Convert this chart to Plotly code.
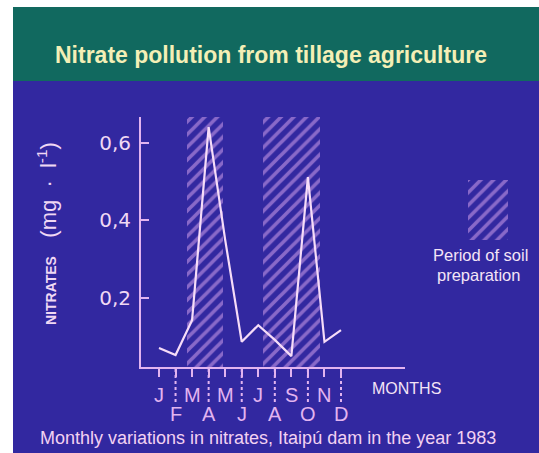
import plotly.graph_objects as go

# ---- data -------------------------------------------------------------
month_idx = list(range(12))
row1_letters = ["J", "M", "M", "J", "S", "N"]          # Jan, Mar, May, Jul, Sep, Nov
row2_letters = ["F", "A", "J", "A", "O", "D"]          # Feb, Apr, Jun, Aug, Oct, Dec
nitrates = [0.071, 0.053, 0.143, 0.641, 0.35, 0.087,
            0.13, 0.092, 0.05, 0.512, 0.087, 0.117]    # mg/l, 1983
y_tick_vals = [0.2, 0.4, 0.6]
y_tick_text = ["0,2", "0,4", "0,6"]
prep_start = [1.69, 6.3]     # soil preparation periods (month index)
prep_end = [3.87, 9.72]

# ---- page geometry (pixels) -------------------------------------------
W, H = 539, 453
def px(x):
    return x / W
def py(y):
    return 1 - y / H

BLUE = "#3228a0"
GREEN = "#11695f"
LILAC = "#e2b4f0"
LINE = "#f6dcf8"
HATCH = "#e0aaf2"
TEXT = "#f0d8f4"

AX_LEFT, AX_RIGHT, AX_TOP, AX_BOTTOM = 141, 405, 117, 367
x_range = [-1.088, 14.868]
y_range = [0.022, 0.667]

HATCH_MARKER = dict(color="rgba(0,0,0,0)", line=dict(width=0),
                    pattern=dict(shape="/", fgcolor=HATCH, bgcolor="rgba(0,0,0,0)",
                                 size=9, solidity=0.4, fillmode="overlay"))

fig = go.Figure()

# hatched soil-preparation periods
fig.add_trace(go.Bar(
    x=[(s + e) / 2 for s, e in zip(prep_start, prep_end)],
    width=[e - s for s, e in zip(prep_start, prep_end)],
    base=[y_range[0]] * len(prep_start),
    y=[0.7 - y_range[0]] * len(prep_start),
    marker=HATCH_MARKER, hoverinfo="skip", showlegend=False,
))

# nitrate concentration line
fig.add_trace(go.Scatter(
    x=month_idx, y=nitrates, mode="lines",
    line=dict(color=LINE, width=2.2), showlegend=False,
))

# legend swatch on its own small axes
fig.add_trace(go.Bar(
    x=[0.5], y=[1], width=[1], xaxis="x2", yaxis="y2",
    marker=HATCH_MARKER, hoverinfo="skip", showlegend=False,
))

shapes = [
    dict(type="rect", xref="paper", yref="paper", x0=px(13), x1=1.01,
         y0=py(81), y1=py(7), fillcolor=GREEN, line=dict(width=0), layer="below"),
    dict(type="rect", xref="paper", yref="paper", x0=px(13), x1=1.01,
         y0=-0.01, y1=py(81), fillcolor=BLUE, line=dict(width=0), layer="below"),
]
# dashed separators under the axis
for i in month_idx[1::2]:
    shapes.append(dict(type="line", xref="x", yref="paper", x0=i, x1=i,
                       y0=py(AX_BOTTOM + 2), y1=py(405),
                       line=dict(color=LILAC, width=2, dash="3px,3px")))


def label(text, x, y, size, color, xref="paper", angle=0, family="Liberation Sans"):
    return dict(text=text, x=x, y=y, xref=xref, yref="paper", showarrow=False,
                xanchor="center", yanchor="middle", textangle=angle,
                font=dict(family=family, size=size, color=color))


annotations = [
    label("<b>Nitrate pollution from tillage agriculture</b>", px(271), py(55), 23, "#f4efb6"),
    label("<span style='font-size:14px'><b>NITRATES</b></span>   (mg  ·  l<sup>-1</sup>)",
          px(47), py(233), 22, TEXT, angle=-90),
    label("MONTHS", px(406), py(388), 16, "#f4e4f6"),
    label("Period of soil", px(480), py(255), 16.5, "#f4e4f6"),
    label("preparation", px(478), py(275), 16.5, "#f4e4f6"),
    label("Monthly variations in nitrates, Itaipú dam in the year 1983",
          px(268), py(438), 18, "#f2d2f2"),
]
for i, letter in zip(month_idx[0::2], row1_letters):
    annotations.append(label(letter, i, py(395), 20, LILAC, xref="x"))
for i, letter in zip(month_idx[1::2], row2_letters):
    annotations.append(label(letter, i, py(414), 20, LILAC, xref="x"))

fig.update_layout(
    width=W, height=H,
    margin=dict(l=0, r=0, t=0, b=0),
    paper_bgcolor="white", plot_bgcolor="rgba(0,0,0,0)",
    barmode="overlay", bargap=0,
    xaxis=dict(domain=[px(AX_LEFT), px(AX_RIGHT)], range=x_range,
               showgrid=False, zeroline=False, showline=True,
               linecolor=LILAC, linewidth=2,
               tickmode="array", tickvals=month_idx, showticklabels=False,
               ticks="outside", ticklen=8, tickwidth=2, tickcolor=LILAC),
    yaxis=dict(domain=[py(AX_BOTTOM), py(AX_TOP)], range=y_range,
               showgrid=False, zeroline=False, showline=True,
               linecolor=LILAC, linewidth=2,
               tickmode="array", tickvals=y_tick_vals, ticktext=y_tick_text,
               ticks="inside", ticklen=8, tickwidth=2, tickcolor=LILAC,
               tickfont=dict(family="DejaVu Sans", size=20, color=TEXT),
               ticklabelstandoff=4),
    xaxis2=dict(domain=[px(468), px(508)], range=[0, 1], visible=False,
                anchor="y2"),
    yaxis2=dict(domain=[py(240), py(180)], range=[0, 1], visible=False,
                anchor="x2"),
    shapes=shapes,
    annotations=annotations,
)

fig.write_html("out.html")
